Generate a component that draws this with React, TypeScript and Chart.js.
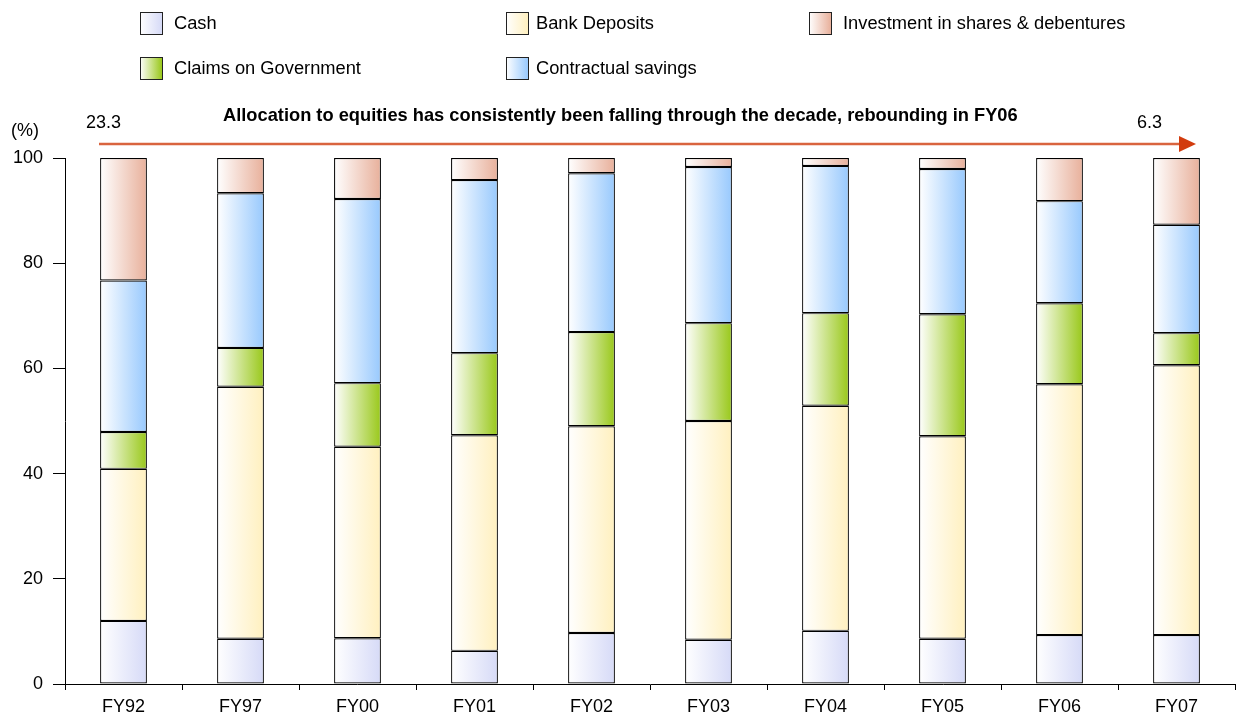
import React, { useEffect, useRef } from "react";
import { Chart, registerables } from "chart.js";

Chart.register(...registerables);

const categories = ["FY92", "FY97", "FY00", "FY01", "FY02", "FY03", "FY04", "FY05", "FY06", "FY07"];
const cash = [12.0, 8.6, 8.7, 6.3, 9.7, 8.4, 10.1, 8.6, 9.3, 9.3];
const bankDeposits = [28.9, 47.9, 36.4, 41.0, 39.3, 41.6, 42.8, 38.5, 47.7, 51.3];
const claimsOnGovernment = [7.0, 7.4, 12.1, 15.6, 17.9, 18.6, 17.6, 23.2, 15.4, 6.1];
const contractualSavings = [28.8, 29.4, 35.0, 32.9, 30.2, 29.7, 28.0, 27.6, 19.4, 20.6];
const investmentShares = [23.3, 6.7, 7.8, 4.2, 2.9, 1.7, 1.5, 2.1, 8.2, 12.7];
const yTicks = [0, 20, 40, 60, 80, 100];
const seriesNames = ["Cash", "Bank Deposits", "Claims on Government", "Contractual savings", "Investment in shares & debentures"];
const seriesColors = ["#d6daf7", "#fff0bf", "#99c81a", "#98c9fd", "#e8b09b"];
const annotationTitle = "Allocation to equities has consistently been falling through the decade, rebounding in FY06";
const startLabel = "23.3";
const endLabel = "6.3";

const FONT = "'Liberation Sans', Arial, sans-serif";

function barGradient(ctx: any, color: string) {
  const chart = ctx.chart;
  const xs = chart?.scales?.x;
  const area = chart?.chartArea;
  if (!xs || !area || ctx.dataIndex === undefined) return color;
  const c = xs.getPixelForValue(ctx.dataIndex);
  if (!isFinite(c)) return color;
  const w = ((area.right - area.left) / categories.length) * 0.4;
  const g = chart.ctx.createLinearGradient(c - w / 2, 0, c + w / 2, 0);
  g.addColorStop(0, "#ffffff");
  g.addColorStop(1, color);
  return g;
}

const overlayPlugin = {
  id: "overlay",
  afterDraw(chart: any) {
    const ctx = chart.ctx as CanvasRenderingContext2D;
    ctx.save();
    const items = [
      { x: 140, y: 12 },
      { x: 506, y: 12 },
      { x: 809, y: 12 },
      { x: 140, y: 57 },
      { x: 506, y: 57 },
    ];
    const textX = [174, 536, 843, 174, 536];
    const order = [0, 1, 4, 2, 3];
    items.forEach((p, i) => {
      const si = order[i];
      const g = ctx.createLinearGradient(p.x, 0, p.x + 22, 0);
      g.addColorStop(0, "#ffffff");
      g.addColorStop(1, seriesColors[si]);
      ctx.fillStyle = g;
      ctx.fillRect(p.x, p.y, 22, 22);
      ctx.strokeStyle = "#222";
      ctx.lineWidth = 1;
      ctx.strokeRect(p.x + 0.5, p.y + 0.5, 22, 22);
      ctx.fillStyle = "#000";
      ctx.font = `18.3px ${FONT}`;
      ctx.textBaseline = "middle";
      ctx.textAlign = "left";
      ctx.fillText(seriesNames[si], textX[i], p.y + 12);
    });
    ctx.font = `18px ${FONT}`;
    ctx.textAlign = "left";
    ctx.textBaseline = "middle";
    ctx.fillStyle = "#000";
    ctx.fillText("(%)", 11, 131);
    ctx.fillText(startLabel, 86, 123);
    ctx.fillText(endLabel, 1137, 123);
    ctx.font = `bold 100px ${FONT}`;
    const w100 = ctx.measureText(annotationTitle).width;
    const size = (795 / w100) * 100;
    ctx.font = `bold ${size.toFixed(2)}px ${FONT}`;
    ctx.fillText(annotationTitle, 223, 116);
    ctx.strokeStyle = "#d9643e";
    ctx.lineWidth = 2.5;
    ctx.beginPath();
    ctx.moveTo(99, 144);
    ctx.lineTo(1182, 144);
    ctx.stroke();
    ctx.fillStyle = "#d23c0e";
    ctx.beginPath();
    ctx.moveTo(1179, 136);
    ctx.lineTo(1196, 144);
    ctx.lineTo(1179, 152);
    ctx.closePath();
    ctx.fill();
    ctx.restore();
  },
};

export default function App() {
  const ref = useRef<HTMLCanvasElement>(null);
  useEffect(() => {
    document.body.style.margin = "0";
    const seriesData = [cash, bankDeposits, claimsOnGovernment, contractualSavings, investmentShares];
    const chart = new Chart(ref.current as HTMLCanvasElement, {
      type: "bar",
      data: {
        labels: categories,
        datasets: seriesData.map((d, i) => ({
          label: seriesNames[i],
          data: d,
          backgroundColor: (c: any) => barGradient(c, seriesColors[i]),
          borderColor: "#000",
          borderWidth: 1.2,
          borderSkipped: false,
          barPercentage: 0.4,
          categoryPercentage: 1,
        })),
      },
      options: {
        animation: false,
        responsive: false,
        maintainAspectRatio: false,
        layout: { padding: { top: 158, right: 1, left: 0, bottom: 0 } },
        plugins: { legend: { display: false }, tooltip: { enabled: false } },
        scales: {
          x: {
            stacked: true,
            offset: true,
            grid: { offset: true, drawOnChartArea: false, tickLength: 6, color: "#000" },
            border: { display: true, color: "#000", width: 1 },
            ticks: { color: "#000", font: { size: 18, family: FONT }, padding: 6, maxRotation: 0 },
            afterFit: (s: any) => { s.height = 32; },
          },
          y: {
            stacked: true,
            min: 0,
            max: 100,
            afterBuildTicks: (s: any) => { s.ticks = yTicks.map((v) => ({ value: v })); },
            grid: { drawOnChartArea: false, tickLength: 12, color: "#000" },
            border: { display: true, color: "#000", width: 1 },
            ticks: { color: "#000", font: { size: 18, family: FONT }, padding: 10 },
            afterFit: (s: any) => { s.width = 65; },
          },
        },
      },
      plugins: [overlayPlugin],
    });
    chart.update();
    return () => chart.destroy();
  }, []);
  return (
    <div style={{ position: "fixed", left: 0, top: 0, width: 1236, height: 716, background: "#fff" }}>
      <canvas ref={ref} width={1236} height={716} style={{ width: 1236, height: 716, display: "block" }} />
    </div>
  );
}
